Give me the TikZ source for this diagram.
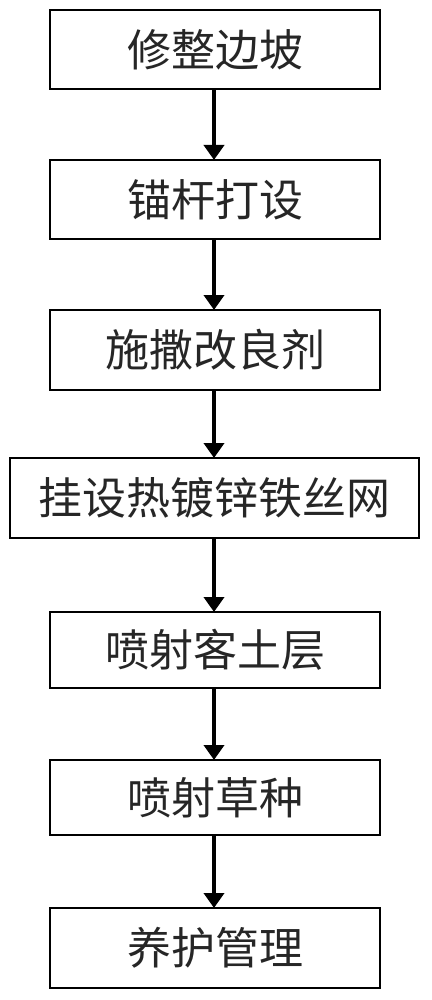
\documentclass[tikz,border=0pt]{standalone}
\usepackage{fontspec}
\newfontfamily\cjk{Noto Sans CJK SC}
\usetikzlibrary{arrows.meta}
\begin{document}
\begin{tikzpicture}[x=1pt,y=-1pt,
  stepbox/.style={draw=black,line width=1.6pt,fill=white},
  steptext/.style={font=\cjk\fontsize{44}{48}\selectfont,text=black!85},
  flow/.style={line width=4pt,-{Triangle[width=20pt,length=15pt]}}]
\useasboundingbox (0,0) rectangle (431,1000);
\fill[white] (0,0) rectangle (431,1000);
\newcommand\stepnode[6]{%
  \draw[stepbox] (#2,#3) rectangle (#4,#5);
  \node[steptext] (#1) at ({(#2+#4)/2},{(#3+#5)/2}) {#6};
  \coordinate (#1t) at (214,#3);
  \coordinate (#1b) at (214,#5);}
\stepnode{a}{50}{10}{380}{89}{修整边坡}
\stepnode{b}{50}{160}{380}{239}{锚杆打设}
\stepnode{c}{50}{310}{380}{390}{施撒改良剂}
\stepnode{d}{10}{458}{419}{538}{挂设热镀锌铁丝网}
\stepnode{e}{50}{612}{380}{688}{喷射客土层}
\stepnode{f}{50}{760}{380}{835}{喷射草种}
\stepnode{g}{50}{908}{380}{988}{养护管理}
\draw[flow] (ab) -- (bt);
\draw[flow] (bb) -- (ct);
\draw[flow] (cb) -- (dt);
\draw[flow] (db) -- (et);
\draw[flow] (eb) -- (ft);
\draw[flow] (fb) -- (gt);
\end{tikzpicture}
\end{document}
